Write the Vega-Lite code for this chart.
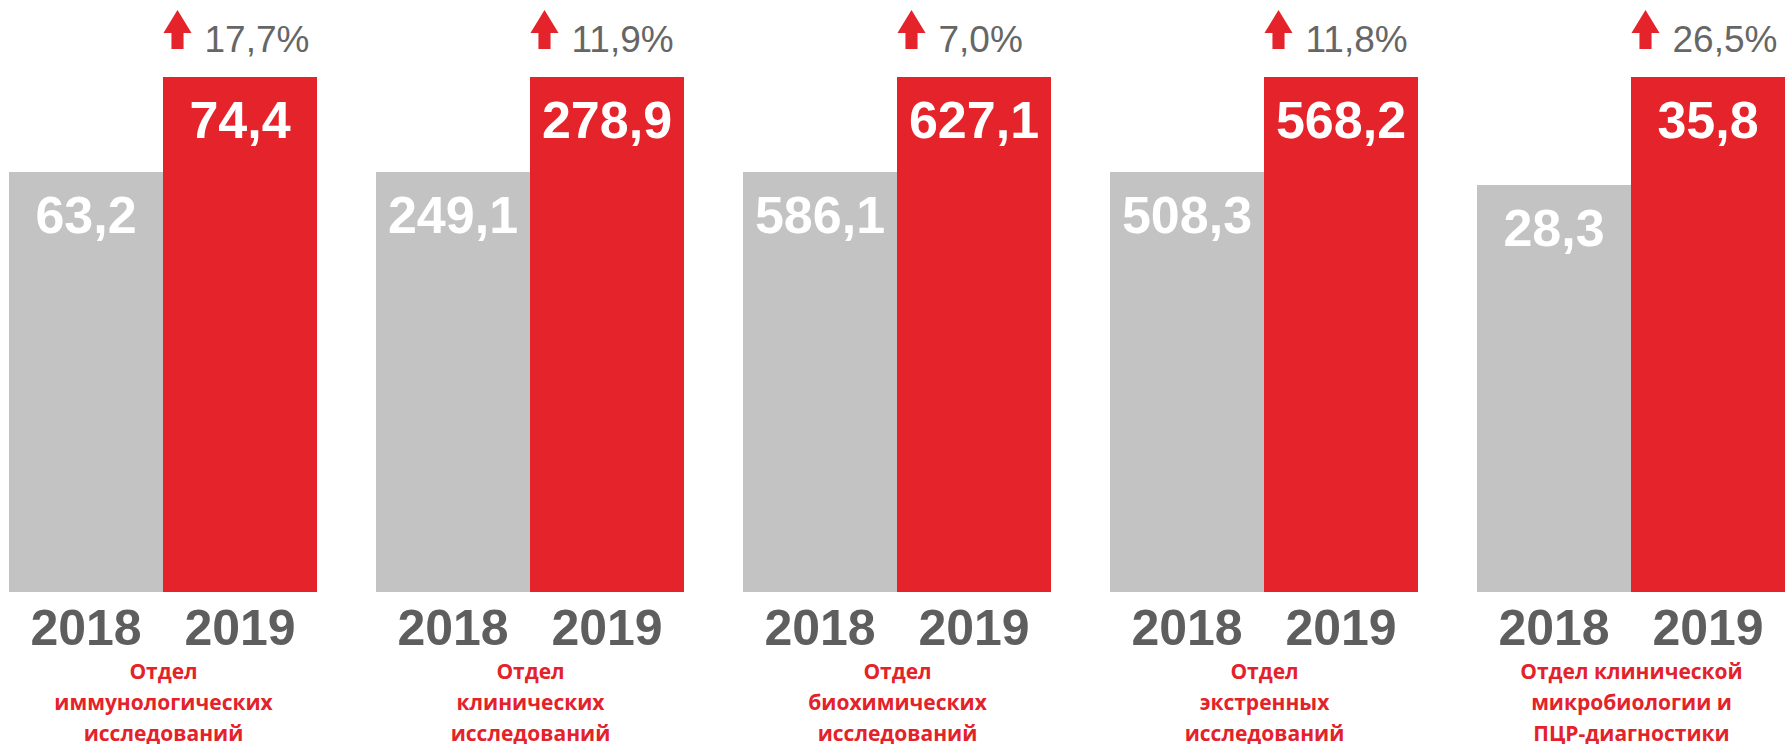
{
  "$schema": "https://vega.github.io/schema/vega-lite/v6.json",
  "background": "white",
  "padding": {"left": 9, "top": 10, "right": 0, "bottom": 0},
  "spacing": 59,
  "config": {
    "locale": {"number": {"decimal": ",", "thousands": " ", "grouping": [3], "currency": ["", ""]}},
    "view": {"stroke": null},
    "scale": {"bandPaddingInner": 0, "bandPaddingOuter": 0},
    "axisX": {
      "domain": false,
      "ticks": false,
      "labelAngle": 0,
      "labelFont": "Liberation Sans",
      "labelFontWeight": "bold",
      "labelFontSize": 50,
      "labelColor": "#5E5E5E",
      "labelBaseline": "alphabetic",
      "labelPadding": 52,
      "titleFont": "Open Sans",
      "titleFontWeight": "bold",
      "titleFontSize": 21,
      "titleColor": "#E3222A",
      "titleLineHeight": 31,
      "titleBaseline": "top",
      "titlePadding": 7
    }
  },
  "data": {
    "values": [
      {"dept": "Отдел иммунологических исследований", "year": "2018", "value": 63.2},
      {"dept": "Отдел иммунологических исследований", "year": "2019", "value": 74.4, "change": 0.177},
      {"dept": "Отдел клинических исследований", "year": "2018", "value": 249.1},
      {"dept": "Отдел клинических исследований", "year": "2019", "value": 278.9, "change": 0.119},
      {"dept": "Отдел биохимических исследований", "year": "2018", "value": 586.1},
      {"dept": "Отдел биохимических исследований", "year": "2019", "value": 627.1, "change": 0.070},
      {"dept": "Отдел экстренных исследований", "year": "2018", "value": 508.3},
      {"dept": "Отдел экстренных исследований", "year": "2019", "value": 568.2, "change": 0.118},
      {"dept": "Отдел клинической микробиологии и ПЦР-диагностики", "year": "2018", "value": 28.3},
      {"dept": "Отдел клинической микробиологии и ПЦР-диагностики", "year": "2019", "value": 35.8, "change": 0.265}
    ]
  },
  "hconcat": [
    {
      "width": 308, "height": 515,
      "transform": [{"filter": "datum.dept == 'Отдел иммунологических исследований'"}],
      "encoding": {
        "x": {"field": "year", "type": "ordinal", "axis": {"title": ["Отдел", "иммунологических", "исследований"]}},
        "y": {"field": "value", "type": "quantitative", "axis": null, "scale": {"domain": [13.7, 74.4], "nice": false, "zero": false}}
      },
      "layer": [
        {"mark": {"type": "bar", "clip": true}, "encoding": {"color": {"field": "year", "type": "nominal", "scale": {"domain": ["2018", "2019"], "range": ["#C3C3C3", "#E5232A"]}, "legend": null}}},
        {"mark": {"type": "text", "font": "Liberation Sans", "fontWeight": "bold", "fontSize": 52, "color": "white", "baseline": "alphabetic", "align": "center", "dy": 61}, "encoding": {"text": {"field": "value", "type": "quantitative", "format": ".1f"}}},
        {"transform": [{"filter": "datum.year == '2019'"}], "mark": {"type": "point", "shape": "M0,-1 L0.72,0.18 L0.31,0.18 L0.31,1 L-0.31,1 L-0.31,0.18 L-0.72,0.18 Z", "filled": true, "size": 1521, "opacity": 1, "color": "#E5232A", "strokeWidth": 0, "xOffset": -62.5, "yOffset": -47.5}, "encoding": {}},
        {"transform": [{"filter": "datum.year == '2019'"}], "mark": {"type": "text", "font": "Liberation Sans", "fontSize": 37, "color": "#666666", "baseline": "alphabetic", "align": "left", "dx": -35.5, "dy": -25}, "encoding": {"text": {"field": "change", "type": "quantitative", "format": ".1%"}}}
      ]
    },
    {
      "width": 308, "height": 515,
      "transform": [{"filter": "datum.dept == 'Отдел клинических исследований'"}],
      "encoding": {
        "x": {"field": "year", "type": "ordinal", "axis": {"title": ["Отдел", "клинических", "исследований"]}},
        "y": {"field": "value", "type": "quantitative", "axis": null, "scale": {"domain": [117.4, 278.9], "nice": false, "zero": false}}
      },
      "layer": [
        {"mark": {"type": "bar", "clip": true}, "encoding": {"color": {"field": "year", "type": "nominal", "scale": {"domain": ["2018", "2019"], "range": ["#C3C3C3", "#E5232A"]}, "legend": null}}},
        {"mark": {"type": "text", "font": "Liberation Sans", "fontWeight": "bold", "fontSize": 52, "color": "white", "baseline": "alphabetic", "align": "center", "dy": 61}, "encoding": {"text": {"field": "value", "type": "quantitative", "format": ".1f"}}},
        {"transform": [{"filter": "datum.year == '2019'"}], "mark": {"type": "point", "shape": "M0,-1 L0.72,0.18 L0.31,0.18 L0.31,1 L-0.31,1 L-0.31,0.18 L-0.72,0.18 Z", "filled": true, "size": 1521, "opacity": 1, "color": "#E5232A", "strokeWidth": 0, "xOffset": -62.5, "yOffset": -47.5}, "encoding": {}},
        {"transform": [{"filter": "datum.year == '2019'"}], "mark": {"type": "text", "font": "Liberation Sans", "fontSize": 37, "color": "#666666", "baseline": "alphabetic", "align": "left", "dx": -35.5, "dy": -25}, "encoding": {"text": {"field": "change", "type": "quantitative", "format": ".1%"}}}
      ]
    },
    {
      "width": 308, "height": 515,
      "transform": [{"filter": "datum.dept == 'Отдел биохимических исследований'"}],
      "encoding": {
        "x": {"field": "year", "type": "ordinal", "axis": {"title": ["Отдел", "биохимических", "исследований"]}},
        "y": {"field": "value", "type": "quantitative", "axis": null, "scale": {"domain": [404.9, 627.1], "nice": false, "zero": false}}
      },
      "layer": [
        {"mark": {"type": "bar", "clip": true}, "encoding": {"color": {"field": "year", "type": "nominal", "scale": {"domain": ["2018", "2019"], "range": ["#C3C3C3", "#E5232A"]}, "legend": null}}},
        {"mark": {"type": "text", "font": "Liberation Sans", "fontWeight": "bold", "fontSize": 52, "color": "white", "baseline": "alphabetic", "align": "center", "dy": 61}, "encoding": {"text": {"field": "value", "type": "quantitative", "format": ".1f"}}},
        {"transform": [{"filter": "datum.year == '2019'"}], "mark": {"type": "point", "shape": "M0,-1 L0.72,0.18 L0.31,0.18 L0.31,1 L-0.31,1 L-0.31,0.18 L-0.72,0.18 Z", "filled": true, "size": 1521, "opacity": 1, "color": "#E5232A", "strokeWidth": 0, "xOffset": -62.5, "yOffset": -47.5}, "encoding": {}},
        {"transform": [{"filter": "datum.year == '2019'"}], "mark": {"type": "text", "font": "Liberation Sans", "fontSize": 37, "color": "#666666", "baseline": "alphabetic", "align": "left", "dx": -35.5, "dy": -25}, "encoding": {"text": {"field": "change", "type": "quantitative", "format": ".1%"}}}
      ]
    },
    {
      "width": 308, "height": 515,
      "transform": [{"filter": "datum.dept == 'Отдел экстренных исследований'"}],
      "encoding": {
        "x": {"field": "year", "type": "ordinal", "axis": {"title": ["Отдел", "экстренных", "исследований"]}},
        "y": {"field": "value", "type": "quantitative", "axis": null, "scale": {"domain": [243.5, 568.2], "nice": false, "zero": false}}
      },
      "layer": [
        {"mark": {"type": "bar", "clip": true}, "encoding": {"color": {"field": "year", "type": "nominal", "scale": {"domain": ["2018", "2019"], "range": ["#C3C3C3", "#E5232A"]}, "legend": null}}},
        {"mark": {"type": "text", "font": "Liberation Sans", "fontWeight": "bold", "fontSize": 52, "color": "white", "baseline": "alphabetic", "align": "center", "dy": 61}, "encoding": {"text": {"field": "value", "type": "quantitative", "format": ".1f"}}},
        {"transform": [{"filter": "datum.year == '2019'"}], "mark": {"type": "point", "shape": "M0,-1 L0.72,0.18 L0.31,0.18 L0.31,1 L-0.31,1 L-0.31,0.18 L-0.72,0.18 Z", "filled": true, "size": 1521, "opacity": 1, "color": "#E5232A", "strokeWidth": 0, "xOffset": -62.5, "yOffset": -47.5}, "encoding": {}},
        {"transform": [{"filter": "datum.year == '2019'"}], "mark": {"type": "text", "font": "Liberation Sans", "fontSize": 37, "color": "#666666", "baseline": "alphabetic", "align": "left", "dx": -35.5, "dy": -25}, "encoding": {"text": {"field": "change", "type": "quantitative", "format": ".1%"}}}
      ]
    },
    {
      "width": 308, "height": 515,
      "transform": [{"filter": "datum.dept == 'Отдел клинической микробиологии и ПЦР-диагностики'"}],
      "encoding": {
        "x": {"field": "year", "type": "ordinal", "axis": {"title": ["Отдел клинической", "микробиологии и", "ПЦР-диагностики"]}},
        "y": {"field": "value", "type": "quantitative", "axis": null, "scale": {"domain": [0, 35.8], "nice": false, "zero": false}}
      },
      "layer": [
        {"mark": {"type": "bar", "clip": true}, "encoding": {"color": {"field": "year", "type": "nominal", "scale": {"domain": ["2018", "2019"], "range": ["#C3C3C3", "#E5232A"]}, "legend": null}}},
        {"mark": {"type": "text", "font": "Liberation Sans", "fontWeight": "bold", "fontSize": 52, "color": "white", "baseline": "alphabetic", "align": "center", "dy": 61}, "encoding": {"text": {"field": "value", "type": "quantitative", "format": ".1f"}}},
        {"transform": [{"filter": "datum.year == '2019'"}], "mark": {"type": "point", "shape": "M0,-1 L0.72,0.18 L0.31,0.18 L0.31,1 L-0.31,1 L-0.31,0.18 L-0.72,0.18 Z", "filled": true, "size": 1521, "opacity": 1, "color": "#E5232A", "strokeWidth": 0, "xOffset": -62.5, "yOffset": -47.5}, "encoding": {}},
        {"transform": [{"filter": "datum.year == '2019'"}], "mark": {"type": "text", "font": "Liberation Sans", "fontSize": 37, "color": "#666666", "baseline": "alphabetic", "align": "left", "dx": -35.5, "dy": -25}, "encoding": {"text": {"field": "change", "type": "quantitative", "format": ".1%"}}}
      ]
    }
  ]
}
